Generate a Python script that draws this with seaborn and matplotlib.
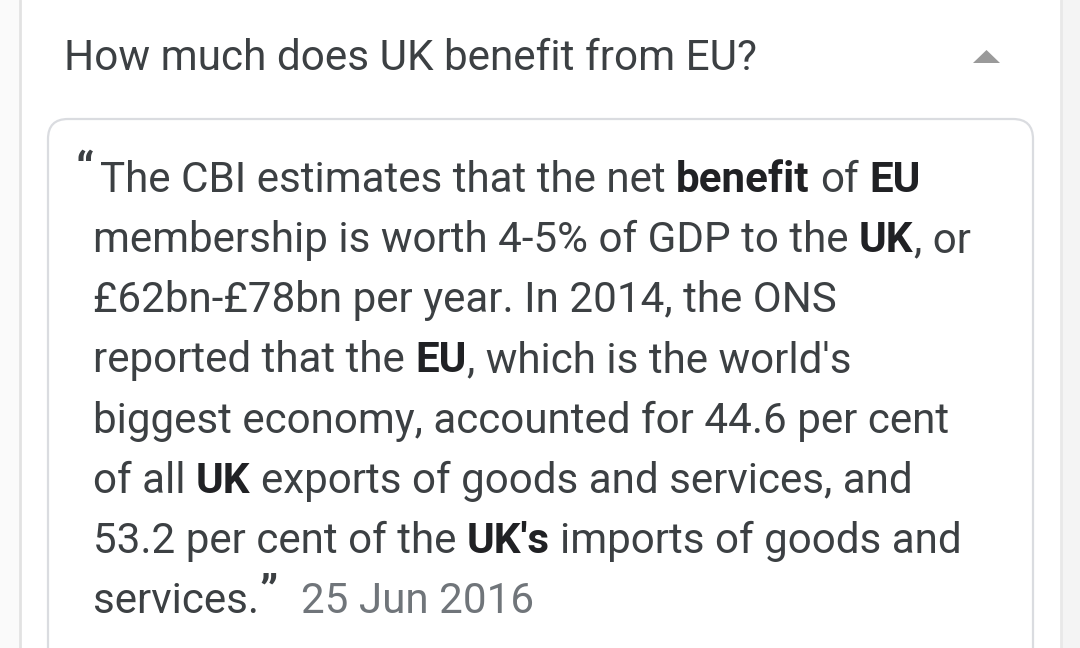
import re
import matplotlib
matplotlib.use("Agg")
import matplotlib.pyplot as plt
import seaborn as sns
from matplotlib.patches import FancyBboxPatch, Polygon, Rectangle

# Snippet text (** marks bold words)
question = "How much does UK benefit from EU?"
lines = [
    "The CBI estimates that the net **benefit** of **EU**",
    "membership is worth 4-5% of GDP to the **UK**, or",
    "£62bn-£78bn per year. In 2014, the ONS",
    "reported that the **EU**, which is the world's",
    "biggest economy, accounted for 44.6 per cent",
    "of all **UK** exports of goods and services, and",
    "53.2 per cent of the **UK's** imports of goods and",
    "services.",
]
date_label = "25 Jun 2016"

sns.set_theme(style="white")
plt.rcParams["font.family"] = ["Roboto", "DejaVu Sans"]

fig = plt.figure(figsize=(10.8, 6.48), dpi=100)
ax = fig.add_axes([0, 0, 1, 1])
ax.set_xlim(0, 1080)
ax.set_ylim(648, 0)
ax.axis("off")
renderer = fig.canvas.get_renderer()

BODY = 30.3
TEXT = "#3c4043"
BOLD = "#202124"
GREY = "#70757a"

# card background / edges
ax.add_patch(Rectangle((0, 0), 19, 648, color="#fafafa", lw=0))
ax.add_patch(Rectangle((1062, 0), 18, 648, color="#f4f4f4", lw=0))
ax.plot([20, 20], [0, 648], color="#e2e2e2", lw=2)
ax.plot([1061, 1061], [0, 648], color="#e8e8e8", lw=2)

ax.add_patch(FancyBboxPatch((48, 119), 985, 620,
                            boxstyle="round,pad=0,rounding_size=20",
                            facecolor="white", edgecolor="#dadce0", lw=1.6))

ax.text(64, 70, question, fontsize=30.4, color=TEXT, va="baseline", ha="left")
ax.add_patch(Polygon([(973, 63), (1000, 63), (986.5, 50)], closed=True,
                     color="#9a9a9a", lw=0))


def width(t):
    return t.get_window_extent(renderer).width


space_w = {}
for w in ("normal", "bold"):
    a = ax.text(0, 0, "x x", fontsize=BODY, weight=w)
    b = ax.text(0, 0, "xx", fontsize=BODY, weight=w)
    space_w[w] = width(a) - width(b)
    a.remove()
    b.remove()


def draw_line(x, y, s):
    for part in re.split(r"(\*\*.*?\*\*)", s):
        if not part:
            continue
        w = "normal"
        col = TEXT
        if part.startswith("**"):
            part = part[2:-2]
            w = "bold"
            col = BOLD
        lead = len(part) - len(part.lstrip(" "))
        trail = len(part) - len(part.rstrip(" "))
        x += lead * space_w[w]
        core = part.strip(" ")
        if core:
            t = ax.text(x, y, core, fontsize=BODY, weight=w, color=col,
                        va="baseline", ha="left")
            x += width(t)
        x += trail * space_w[w]
    return x


x0 = 93
base = 192
step = 60.15
ax.text(75, base - 8, "“", fontsize=BODY + 2, color=TEXT, weight="bold",
        va="baseline", ha="left")
for i, s in enumerate(lines):
    start = 100 if i == 0 else x0
    xe = draw_line(start, base + i * step, s)

y_last = base + (len(lines) - 1) * step
cq = ax.text(xe, y_last - 8, "”", fontsize=BODY + 2, color=TEXT, weight="bold",
             va="baseline", ha="left")
ax.text(xe + width(cq) + 24, y_last, date_label, fontsize=BODY, color=GREY,
        va="baseline", ha="left")

fig.savefig("out.png", dpi=100)
